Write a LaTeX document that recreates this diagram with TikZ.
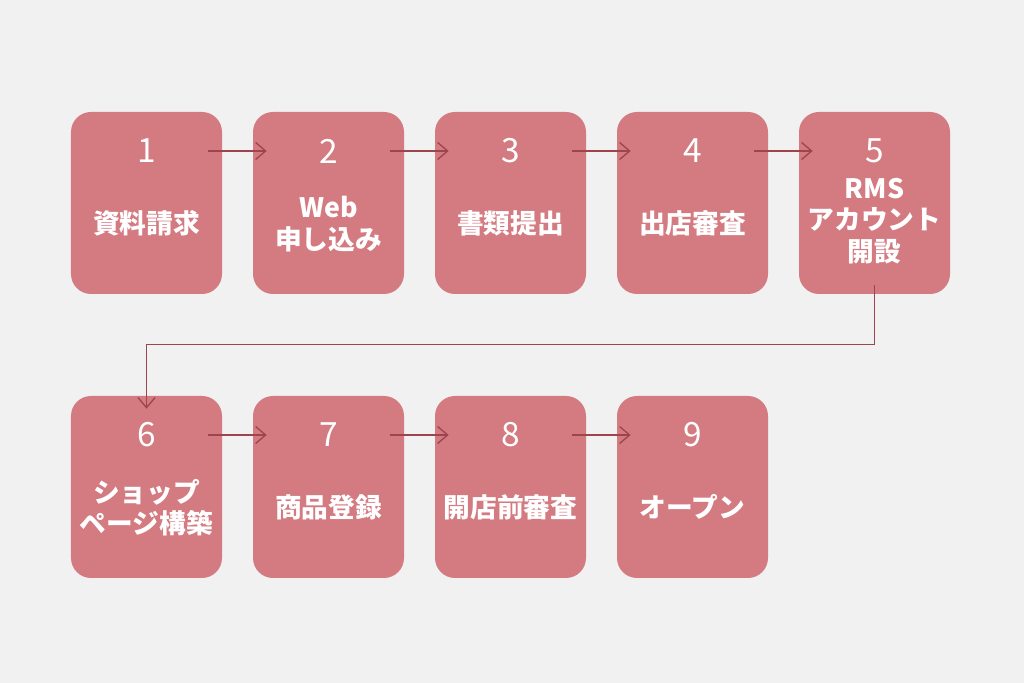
\documentclass[tikz,border=0pt]{standalone}
\usepackage{fontspec}
\usepackage{xcolor}
\usepackage{tikz}
\usetikzlibrary{positioning}
\usetikzlibrary{arrows.meta}
\newfontfamily\cjk{Noto Sans CJK JP}
\definecolor{bgray}{RGB}{241,241,241}
\definecolor{boxpink}{RGB}{212,122,129}
\definecolor{linered}{RGB}{158,68,77}

\begin{document}
\begin{tikzpicture}[node distance=3.64cm,on grid,
    stepbox/.style={fill=boxpink,rounded corners=0.4cm,minimum width=3.02cm,minimum height=3.64cm,inner sep=0pt},
    num/.style={text=white,font=\cjk\fontsize{19}{19}\selectfont,minimum width=2.46cm,inner sep=0pt},
    txt/.style={text=white,font=\cjk\bfseries\fontsize{15.2}{17.8}\selectfont,align=center,inner sep=0pt},
    flow/.style={draw=linered,line width=0.75pt,-{Straight Barb[length=0.2cm,width=0.34cm]}}]
        \fill[bgray] (0,0) rectangle (20.48,13.66);
        \useasboundingbox (0,0) rectangle (20.48,13.66);
        % first row
        \node[stepbox] (s1) at (2.93,9.6) {};
        \node[stepbox] (s2) [right=of s1] {};
        \node[stepbox] (s3) [right=of s2] {};
        \node[stepbox] (s4) [right=of s3] {};
        \node[stepbox] (s5) [right=of s4] {};
        % second row
        \node[stepbox] (s6) [below=5.68cm of s1] {};
        \node[stepbox] (s7) [right=of s6] {};
        \node[stepbox] (s8) [right=of s7] {};
        \node[stepbox] (s9) [right=of s8] {};
        \node[num] (n1) [above=1.04cm of s1] {1};
        \node[num] (n2) [above=1.04cm of s2] {2};
        \node[num] (n3) [above=1.04cm of s3] {3};
        \node[num] (n4) [above=1.04cm of s4] {4};
        \node[num] (n5) [above=1.04cm of s5] {5};
        \node[num] (n6) [above=1.04cm of s6] {6};
        \node[num] (n7) [above=1.04cm of s7] {7};
        \node[num] (n8) [above=1.04cm of s8] {8};
        \node[num] (n9) [above=1.04cm of s9] {9};
        \node[txt] (t1) [below=0.4cm of s1] {資料請求};
        \node[txt] (t2) [below=0.42cm of s2] {Web\\申し込み};
        \node[txt] (t3) [below=0.4cm of s3] {書類提出};
        \node[txt] (t4) [below=0.4cm of s4] {出店審査};
        \node[txt] (t5) [below=0.36cm of s5] {RMS\\アカウント\\開設};
        \node[txt] (t6) [below=0.42cm of s6] {ショップ\\ページ構築};
        \node[txt] (t7) [below=0.4cm of s7] {商品登録};
        \node[txt] (t8) [below=0.4cm of s8] {開店前審査};
        \node[txt] (t9) [below=0.4cm of s9] {オープン};
        \draw[flow] (n1.east) to (n2.west);
        \draw[flow] (n2.east) to (n3.west);
        \draw[flow] (n3.east) to (n4.west);
        \draw[flow] (n4.east) to (n5.west);
        \draw[flow] ([yshift=0.18cm]s5.south) |- ([yshift=1.02cm]s6.north) -- ([yshift=-0.26cm]s6.north);
        \draw[flow] (n6.east) to (n7.west);
        \draw[flow] (n7.east) to (n8.west);
        \draw[flow] (n8.east) to (n9.west);
      \end{tikzpicture}
\end{document}
